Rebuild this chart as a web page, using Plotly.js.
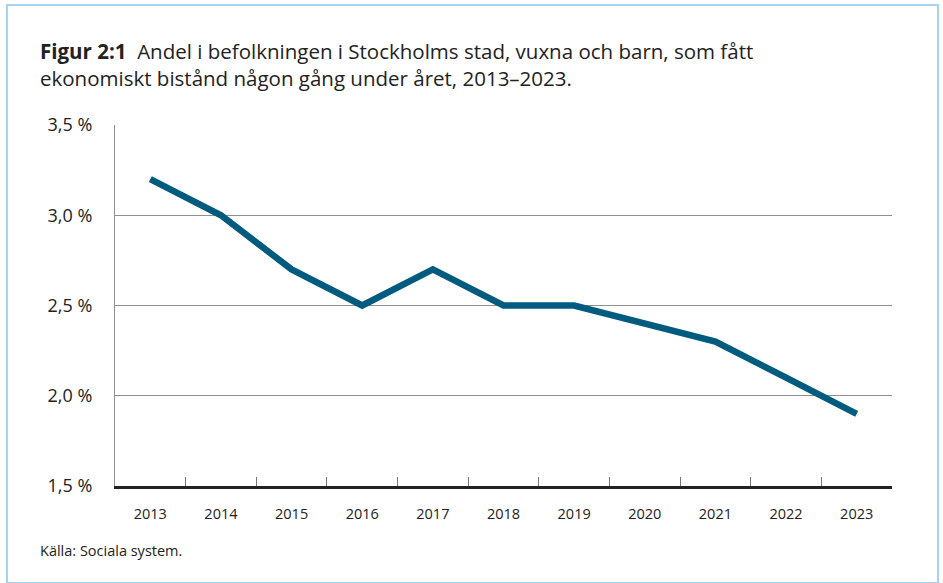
<!DOCTYPE html>
<html>
<head>
<meta charset="utf-8">
<script src="https://cdn.plot.ly/plotly-3.0.1.min.js"></script>
<style>
html,body{margin:0;padding:0;background:#fff;}
#frame{position:absolute;left:6px;top:4px;width:933px;height:580px;border:2px solid #a6d2f3;box-sizing:border-box;}
#chart{position:absolute;left:0;top:0;width:943px;height:583px;}
</style>
</head>
<body>
<div id="chart"></div>
<div id="frame"></div>
<script>
const years = ['2013','2014','2015','2016','2017','2018','2019','2020','2021','2022','2023'];
const share = [3.2, 3.0, 2.7, 2.5, 2.7, 2.5, 2.5, 2.4, 2.3, 2.1, 1.9];
const yTickVals = [1.5, 2.0, 2.5, 3.0, 3.5];
const yTickText = ['1,5 %', '2,0 %', '2,5 %', '3,0 %', '3,5 %'];
const titleText = '<b>Figur 2:1</b>  Andel i befolkningen i Stockholms stad, vuxna och barn, som fått<br>ekonomiskt bistånd någon gång under året, 2013–2023.';
const sourceText = 'Källa: Sociala system.';

const font = '"Open Sans", Lato, "Noto Sans", sans-serif';

Plotly.newPlot('chart', [{
  x: years, y: share, type: 'scatter', mode: 'lines',
  line: {color: '#005b7f', width: 6.5},
  hoverinfo: 'skip'
}], {
  width: 943, height: 583,
  margin: {l: 115, r: 51, t: 125, b: 97},
  paper_bgcolor: '#fff', plot_bgcolor: '#fff',
  showlegend: false,
  font: {family: font, color: '#222'},
  xaxis: {
    type: 'category', range: [-0.5, 10.5], tickson: 'boundaries', ticks: 'inside', ticklen: 9,
    tickcolor: '#777', tickwidth: 1,
    showgrid: false, showline: true, linecolor: '#222', linewidth: 2.5,
    tickfont: {size: 14.5, family: font, color: '#222'},
    ticklabelstandoff: 13, fixedrange: true
  },
  yaxis: {
    range: [1.5, 3.5], tickvals: yTickVals, ticktext: yTickText,
    showgrid: true, gridcolor: '#8f8f8f', gridwidth: 1,
    showline: true, linecolor: '#8f8f8f', linewidth: 1,
    zeroline: false, ticks: '',
    tickfont: {size: 18, family: font, color: '#222'},
    ticklabelstandoff: 18, fixedrange: true
  },
  annotations: [
    {xref: 'paper', yref: 'paper', x: -77/777, y: (583-35-97)/361, xanchor: 'left', yanchor: 'top',
     text: titleText, showarrow: false, align: 'left',
     font: {size: 20.5, family: font, color: '#222'}},
    {xref: 'paper', yref: 'paper', x: -77/777, y: -(550-486)/361, xanchor: 'left', yanchor: 'middle',
     text: sourceText, showarrow: false, align: 'left',
     font: {size: 14.5, family: font, color: '#222'}}
  ]
}, {staticPlot: true});
</script>
</body>
</html>
